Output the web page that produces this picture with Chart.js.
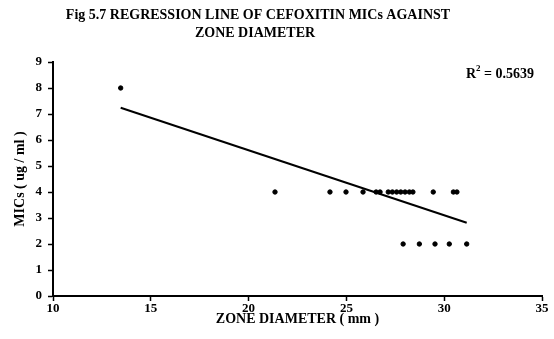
<!DOCTYPE html>
<html>
<head>
<meta charset="utf-8">
<script src="https://cdn.jsdelivr.net/npm/chart.js@4/dist/chart.umd.min.js"></script>
<style>
  html, body { margin: 0; padding: 0; background: #fff; }
  #wrap { width: 554px; height: 339px; position: relative; }
</style>
</head>
<body>
<div id="wrap"><canvas id="c"></canvas></div>
<script>
// Zone diameter (mm) and cefoxitin MIC (ug/ml) for each isolate
const zoneDiameter = [13.46,
  21.35, 24.16, 24.98, 25.85, 26.52, 26.72, 27.14, 27.35, 27.57, 27.78, 28.0, 28.22, 28.4, 29.44, 30.47, 30.65,
  27.9, 28.73, 29.53, 30.26, 31.15];
const micValues = [8,
  4, 4, 4, 4, 4, 4, 4, 4, 4, 4, 4, 4, 4, 4, 4, 4,
  2, 2, 2, 2, 2];

// Fitted regression line end points
const fitX = [13.46, 31.15];
const fitY = [7.24, 2.82];
const rSquared = '0.5639';

const xTicks = [10, 15, 20, 25, 30, 35];
const yTicks = [0, 1, 2, 3, 4, 5, 6, 7, 8, 9];

const titleLines = ['Fig 5.7 REGRESSION LINE OF CEFOXITIN MICs AGAINST', 'ZONE DIAMETER'];

const serif = '"Liberation Serif", "Times New Roman", serif';

const headerText = {
  id: 'headerText',
  afterDraw(chart) {
    const ctx = chart.ctx;
    ctx.save();
    ctx.fillStyle = '#000';
    ctx.font = 'bold 14px ' + serif;
    ctx.textAlign = 'center';
    ctx.textBaseline = 'middle';
    ctx.fillText(titleLines[0], 258, 15);
    ctx.fillText(titleLines[1], 255, 33);
    // R squared annotation with a raised "2"
    ctx.textAlign = 'left';
    ctx.font = 'bold 14px ' + serif;
    let x = 466;
    ctx.fillText('R', x, 74);
    x += ctx.measureText('R').width;
    ctx.font = 'bold 9px ' + serif;
    ctx.fillText('2', x, 69);
    x += ctx.measureText('2').width;
    ctx.font = 'bold 14px ' + serif;
    ctx.fillText(' = ' + rSquared, x, 74);
    ctx.restore();
  }
};

const points = zoneDiameter.map((x, i) => ({ x: x, y: micValues[i] }));
const fitLine = fitX.map((x, i) => ({ x: x, y: fitY[i] }));

new Chart(document.getElementById('c'), {
  type: 'scatter',
  data: {
    datasets: [
      {
        label: 'MIC',
        data: points,
        backgroundColor: '#000',
        borderColor: '#000',
        pointRadius: 2.2,
        pointHoverRadius: 2.2
      },
      {
        label: 'Linear fit',
        data: fitLine,
        showLine: true,
        borderColor: '#000',
        borderWidth: 2,
        pointRadius: 0,
        fill: false
      }
    ]
  },
  options: {
    responsive: true,
    maintainAspectRatio: false,
    animation: false,
    layout: { padding: { top: 62, right: 12, bottom: 0, left: 0 } },
    plugins: {
      legend: { display: false },
      title: { display: false },
      tooltip: { enabled: false }
    },
    scales: {
      x: {
        type: 'linear',
        min: 10,
        max: 35,
        afterBuildTicks: (s) => { s.ticks = xTicks.map(v => ({ value: v })); },
        afterFit: (s) => { s.height = 43; },
        ticks: {
          color: '#000',
          font: { family: serif, size: 13, weight: 'bold' },
          padding: 0,
          maxRotation: 0
        },
        grid: { display: true, drawOnChartArea: false, drawTicks: true, tickLength: 5, color: '#000', tickWidth: 1.5 },
        border: { display: true, color: '#000', width: 2 },
        title: {
          display: true,
          text: 'ZONE DIAMETER ( mm )',
          color: '#000',
          font: { family: serif, size: 14, weight: 'bold' },
          padding: { top: 0, bottom: 11 }
        }
      },
      y: {
        type: 'linear',
        min: 0,
        max: 9,
        afterBuildTicks: (s) => { s.ticks = yTicks.map(v => ({ value: v })); },
        afterFit: (s) => { s.width = 53; },
        ticks: {
          color: '#000',
          font: { family: serif, size: 13, weight: 'bold' },
          padding: 6
        },
        grid: { display: true, drawOnChartArea: false, drawTicks: true, tickLength: 5, color: '#000', tickWidth: 1.5 },
        border: { display: true, color: '#000', width: 2 },
        title: {
          display: true,
          text: 'MICs ( ug / ml )',
          color: '#000',
          font: { family: serif, size: 14, weight: 'bold' },
          padding: { top: 12, bottom: 0 }
        }
      }
    }
  },
  plugins: [headerText]
});
</script>
</body>
</html>
